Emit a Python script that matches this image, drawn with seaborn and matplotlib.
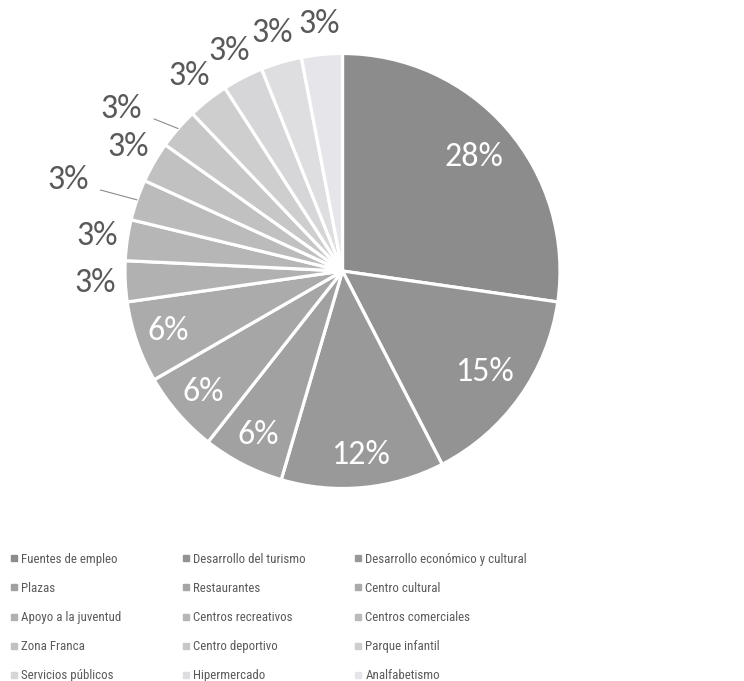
import matplotlib
matplotlib.use("Agg")
import matplotlib.pyplot as plt
from matplotlib.lines import Line2D
import numpy as np
import seaborn as sns

# answers per category (33 in total), labels as printed on the chart
categories = ["Fuentes de empleo", "Desarrollo del turismo", "Desarrollo económico y cultural",
              "Plazas", "Restaurantes", "Centro cultural",
              "Apoyo a la juventud", "Centros recreativos", "Centros comerciales",
              "Zona Franca", "Centro deportivo", "Parque infantil",
              "Servicios públicos", "Hipermercado", "Analfabetismo"]
counts = [9, 5, 4, 2, 2, 2, 1, 1, 1, 1, 1, 1, 1, 1, 1]
pct_labels = ["28%", "15%", "12%", "6%", "6%", "6%",
              "3%", "3%", "3%", "3%", "3%", "3%", "3%", "3%", "3%"]

colors = ["#8c8c8c", "#939393", "#999999", "#a1a1a1", "#a6a6a6", "#ababab",
          "#b1b1b1", "#b6b6b6", "#bbbbbb", "#c1c1c1", "#c7c7c7", "#cecece",
          "#d6d6d8", "#dedee0", "#e6e6ea"]

sns.set_theme(style="white")
plt.rcParams['font.family'] = ['Carlito', 'DejaVu Sans']

fig = plt.figure(figsize=(7.44, 6.81), dpi=100)
ax = fig.add_axes([125 / 744, 192.5 / 681, 435 / 744, 435 / 681])

wedges, _ = ax.pie(counts, colors=colors, startangle=90, counterclock=False,
                   radius=1.0, wedgeprops=dict(edgecolor="white", linewidth=2.3))
ax.set_xlim(-1, 1)
ax.set_ylim(-1, 1)
ax.set_aspect("equal")
ax.axis("off")

# labels: big slices inside, small ones outside (two pushed out with leader lines)
for i, (w, lab) in enumerate(zip(wedges, pct_labels)):
    mid = np.deg2rad((w.theta1 + w.theta2) / 2)
    if i < 6:
        r = 0.8 if i < 2 else 0.85
        ax.text(r * np.cos(mid), r * np.sin(mid), lab, ha="center", va="center",
                fontsize=24.5, color="white")
    elif i in (8, 10):
        r, shift = (1.33, 0.8) if i == 8 else (1.26, 4.7)
        a = mid + np.deg2rad(shift)
        lx, ly = r * np.cos(a), r * np.sin(a)
        ax.text(lx, ly, lab, ha="center", va="center", fontsize=24.5, color="#595959")
        ax.plot([lx + 0.15, np.cos(mid)], [ly - 0.045, np.sin(mid)],
                color="#8c8c8c", lw=0.8, clip_on=False)
    else:
        r = 1.14
        ax.text(r * np.cos(mid), r * np.sin(mid), lab, ha="center", va="center",
                fontsize=24.5, color="#595959")

# legend in three columns, filled row by row
handles = [Line2D([], [], ls="none", marker="s", markersize=4.5,
                  markerfacecolor=c, markeredgecolor=c) for c in colors]
col_x = [11, 183, 355]
for k in range(3):
    idx = list(range(k, 15, 3))
    fig.legend([handles[j] for j in idx], [categories[j] for j in idx],
               loc="upper left", bbox_to_anchor=(col_x[k] / 744, 1 - 553 / 681),
               frameon=False, borderpad=0, borderaxespad=0,
               handlelength=0.5, handletextpad=0.3, labelspacing=1.24,
               prop=dict(family=["Roboto Condensed", "DejaVu Sans"], size=9.3),
               labelcolor="#5a5a5a")

fig.savefig("out.png", dpi=100)
